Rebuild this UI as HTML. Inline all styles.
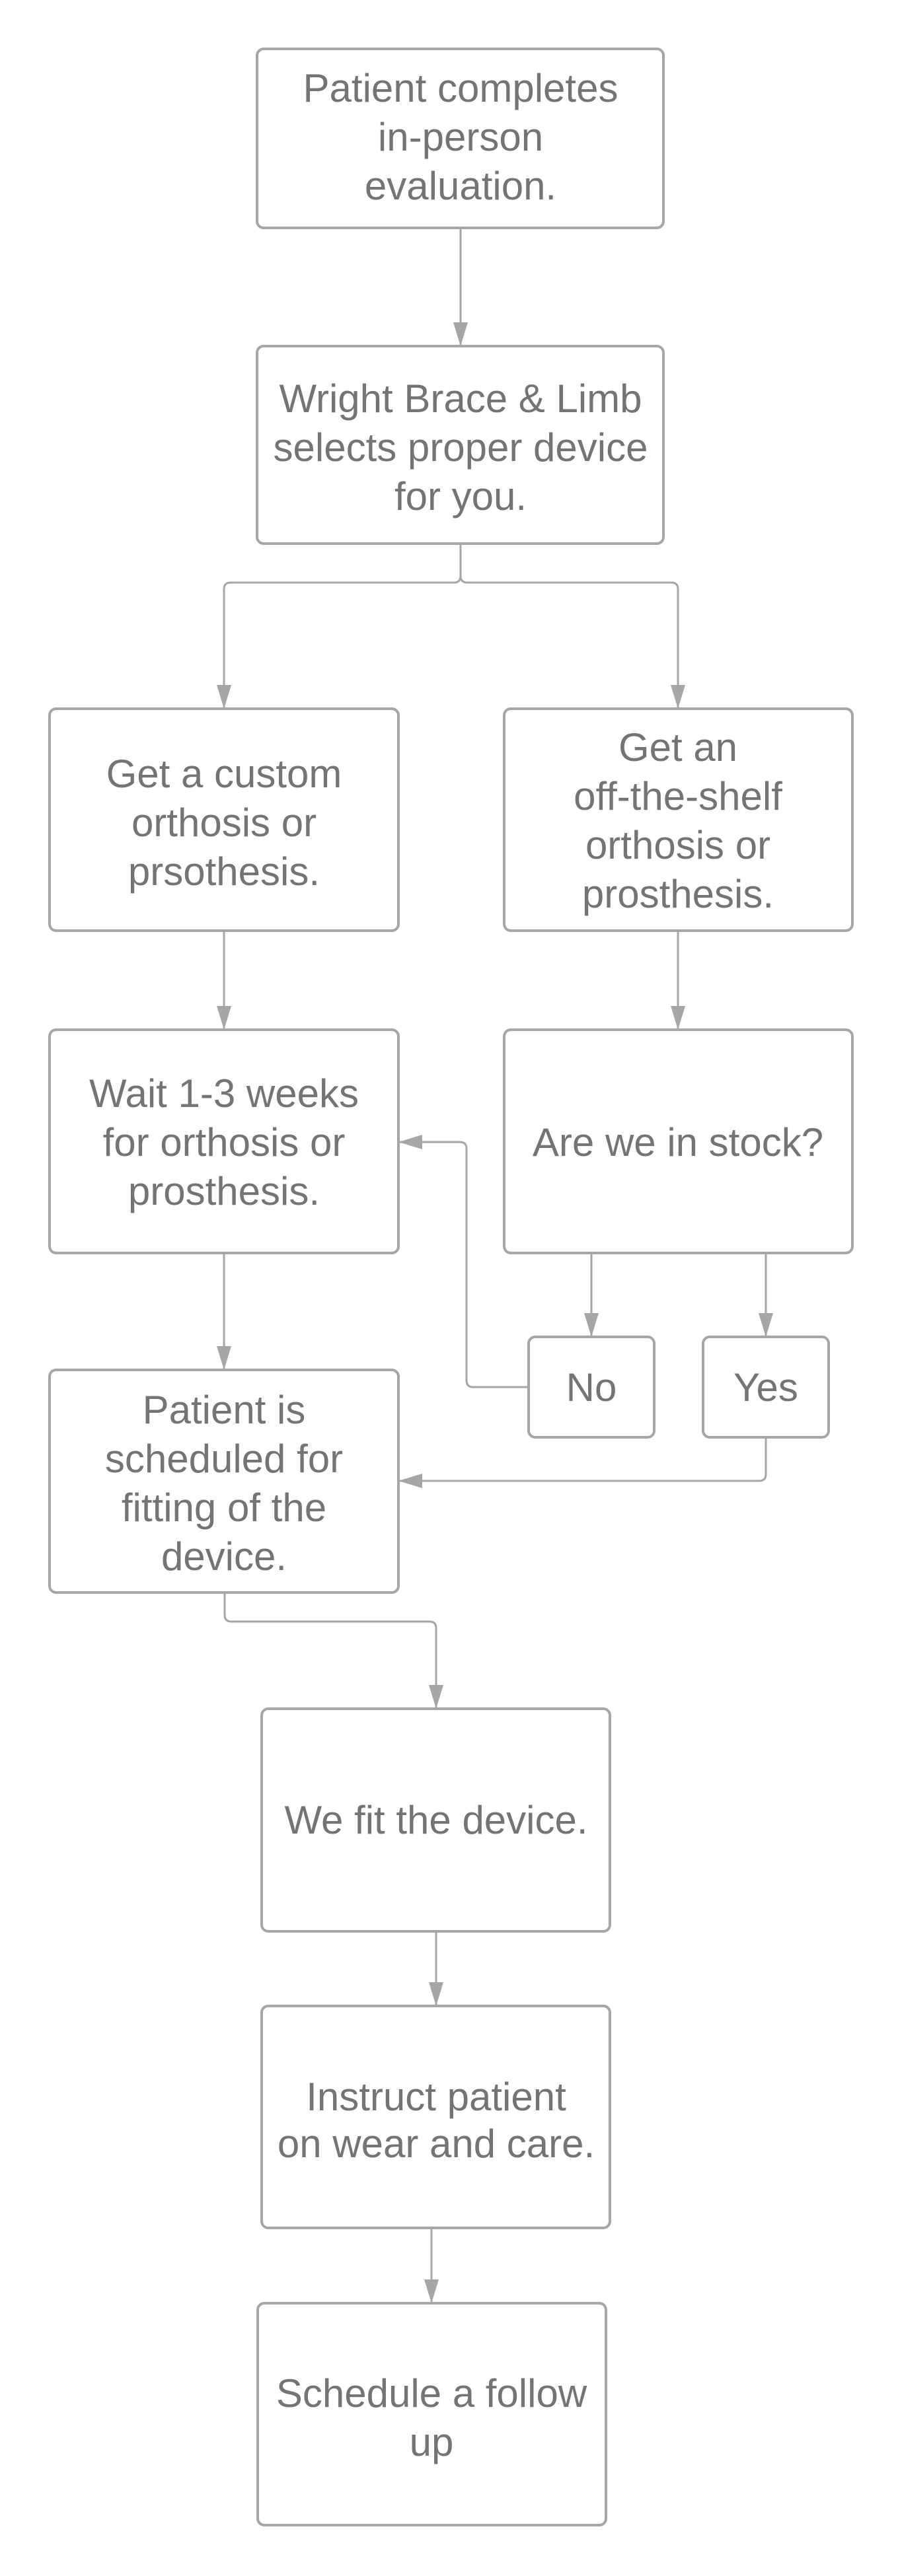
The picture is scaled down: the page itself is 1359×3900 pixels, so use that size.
<!DOCTYPE html>
<html><head><meta charset="utf-8"><style>
html,body{margin:0;padding:0;background:#fff}
svg{display:block}
text{font-family:"Liberation Sans",sans-serif;font-size:60px;fill:#747474;text-anchor:middle}
.b{fill:#fff;stroke:#a6a6a6;stroke-width:4}
.l{fill:none;stroke:#a6a6a6;stroke-width:3;stroke-linejoin:round}
</style></head><body>
<svg width="1359" height="3900" viewBox="0 0 1359 3900">
<defs>
<marker id="h" markerWidth="36" markerHeight="22" refX="34" refY="11" orient="auto" markerUnits="userSpaceOnUse"><path d="M0,0 L36,11 L0,22 Z" fill="#a6a6a6"/></marker></defs>
<rect class="b" x="389" y="74" width="615" height="271" rx="10"/>
<rect class="b" x="389" y="524" width="615" height="299" rx="10"/>
<rect class="b" x="75" y="1073" width="528" height="336" rx="10"/>
<rect class="b" x="763" y="1073" width="527" height="336" rx="10"/>
<rect class="b" x="75" y="1559" width="528" height="338" rx="10"/>
<rect class="b" x="763" y="1559" width="527" height="338" rx="10"/>
<rect class="b" x="800" y="2024" width="190" height="152" rx="10"/>
<rect class="b" x="1064" y="2024" width="190" height="152" rx="10"/>
<rect class="b" x="75" y="2074" width="528" height="337" rx="10"/>
<rect class="b" x="396" y="2587" width="527" height="337" rx="10"/>
<rect class="b" x="396" y="3037" width="527" height="336" rx="10"/>
<rect class="b" x="390" y="3487" width="527" height="336" rx="10"/>

<path class="l" marker-end="url(#h)" d="M697,347 V522"/>
<path class="l" marker-end="url(#h)" d="M697,825 V872 Q697,882 687,882 H349 Q339,882 339,892 V1071"/>
<path class="l" marker-end="url(#h)" d="M697,825 V872 Q697,882 707,882 H1016 Q1026,882 1026,892 V1071"/>
<path class="l" marker-end="url(#h)" d="M339,1411 V1557"/>
<path class="l" marker-end="url(#h)" d="M1026,1411 V1557"/>
<path class="l" marker-end="url(#h)" d="M895,1899 V2022"/>
<path class="l" marker-end="url(#h)" d="M1159,1899 V2022"/>
<path class="l" marker-end="url(#h)" d="M798,2100 H716 Q706,2100 706,2090 V1739 Q706,1729 696,1729 H605"/>
<path class="l" marker-end="url(#h)" d="M339,1899 V2072"/>
<path class="l" marker-end="url(#h)" d="M1159,2178 V2232 Q1159,2242 1149,2242 H605"/>
<path class="l" marker-end="url(#h)" d="M340,2413 V2445 Q340,2455 350,2455 H650 Q660,2455 660,2465 V2585"/>
<path class="l" marker-end="url(#h)" d="M660,2926 V3035"/>
<path class="l" marker-end="url(#h)" d="M653,3375 V3485"/>

<text x="697" y="154">Patient completes</text>
<text x="697" y="228">in-person</text>
<text x="697" y="302">evaluation.</text>
<text x="697" y="624">Wright Brace &amp; Limb</text>
<text x="697" y="698">selects proper device</text>
<text x="697" y="772">for you.</text>
<text x="339" y="1192">Get a custom</text>
<text x="339" y="1266">orthosis or</text>
<text x="339" y="1340">prsothesis.</text>
<text x="1026" y="1152">Get an</text>
<text x="1026" y="1226">off-the-shelf</text>
<text x="1026" y="1300">orthosis or</text>
<text x="1026" y="1374">prosthesis.</text>
<text x="339" y="1676">Wait 1-3 weeks</text>
<text x="339" y="1750">for orthosis or</text>
<text x="339" y="1824">prosthesis.</text>
<text x="1026" y="1750">Are we in stock?</text>
<text x="895" y="2121">No</text>
<text x="1159" y="2121">Yes</text>
<text x="339" y="2155">Patient is</text>
<text x="339" y="2229">scheduled for</text>
<text x="339" y="2303">fitting of the</text>
<text x="339" y="2377">device.</text>
<text x="660" y="2776">We fit the device.</text>
<text x="660" y="3195">Instruct patient</text>
<text x="660" y="3266">on wear and care.</text>
<text x="653" y="3644">Schedule a follow</text>
<text x="653" y="3718">up</text>
</svg>
</body></html>
